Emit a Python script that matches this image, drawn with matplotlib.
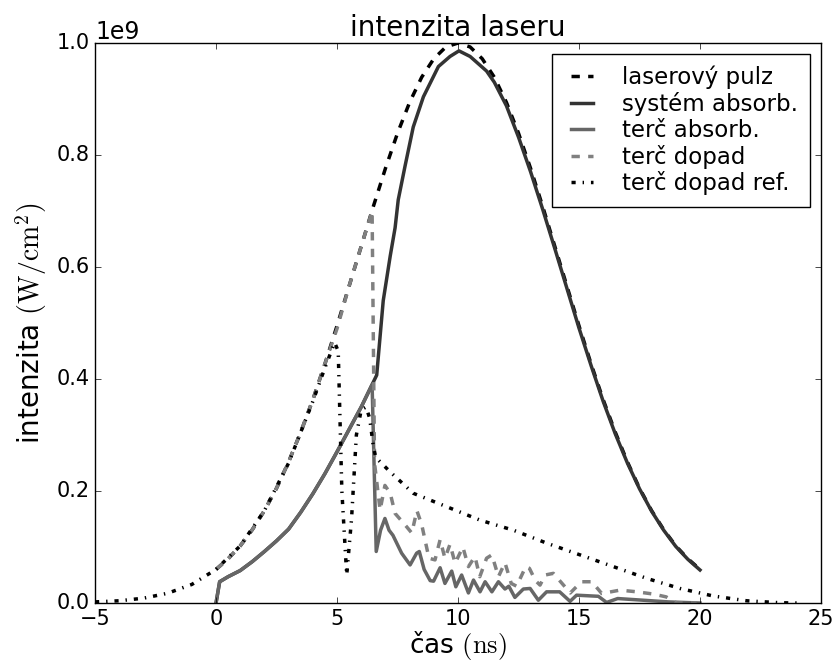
import matplotlib
matplotlib.use("Agg")
import matplotlib.pyplot as plt

plt.style.use('classic')
plt.rcParams['figure.facecolor'] = 'white'
plt.rcParams['savefig.facecolor'] = 'white'

# laserový pulz
t_laser = [0, 0.5, 1, 1.5, 2, 2.5, 3, 3.5, 4, 4.5, 5, 5.5, 6, 6.5, 7, 7.5, 8, 8.5, 9, 9.5,
           10, 10.5, 11, 11.5, 12, 12.5, 13, 13.5, 14, 14.5, 15, 15.5, 16, 16.5, 17, 17.5,
           18, 18.5, 19, 19.5, 20]
i_laser = [0.060, 0.079, 0.102, 0.131, 0.165, 0.205, 0.252, 0.305, 0.363, 0.427, 0.495,
           0.566, 0.637, 0.708, 0.776, 0.839, 0.894, 0.939, 0.972, 0.993, 1.000, 0.993,
           0.972, 0.939, 0.894, 0.839, 0.776, 0.708, 0.637, 0.566, 0.495, 0.427, 0.363,
           0.305, 0.252, 0.205, 0.165, 0.131, 0.102, 0.079, 0.060]

# systém absorb.
t_sys = [0, 0.15, 0.5, 1, 1.5, 2, 2.5, 3, 3.5, 4, 4.5, 5, 5.5, 6, 6.64, 6.91, 7.2, 7.4,
         7.53, 7.81, 8.15, 8.57, 9.19, 9.67, 10.04, 10.5, 11.18, 11.5, 12, 12.5, 13, 13.5,
         14, 14.5, 15, 15.5, 16, 16.5, 17, 17.5, 18, 18.5, 19, 19.5, 20]
i_sys = [0.0, 0.038, 0.047, 0.058, 0.074, 0.092, 0.111, 0.132, 0.162, 0.195, 0.231, 0.270,
         0.310, 0.350, 0.407, 0.540, 0.620, 0.670, 0.720, 0.780, 0.850, 0.904, 0.958, 0.976,
         0.986, 0.976, 0.950, 0.930, 0.888, 0.832, 0.770, 0.703, 0.633, 0.562, 0.491, 0.424,
         0.360, 0.302, 0.250, 0.204, 0.164, 0.130, 0.101, 0.078, 0.059]

# terč absorb.
t_tabs = [0, 0.15, 0.5, 1, 1.5, 2, 2.5, 3, 3.5, 4, 4.5, 5, 5.5, 6, 6.45, 6.62, 6.8, 6.98,
          7.15, 7.31, 7.67, 8.02, 8.29, 8.4, 8.6, 8.85, 8.99, 9.26, 9.46, 9.74, 9.91, 10.15,
          10.43, 10.64, 10.91, 11.12, 11.4, 11.67, 11.94, 12.1, 12.35, 12.7, 12.98, 13.32,
          13.66, 14.2, 14.63, 14.9, 15.8, 16.14, 16.6, 18.7, 20]
i_tabs = [0.0, 0.038, 0.047, 0.058, 0.074, 0.092, 0.111, 0.132, 0.162, 0.195, 0.231, 0.270,
          0.310, 0.350, 0.390, 0.092, 0.130, 0.151, 0.130, 0.121, 0.089, 0.068, 0.089, 0.092,
          0.060, 0.040, 0.039, 0.063, 0.035, 0.057, 0.029, 0.050, 0.018, 0.041, 0.020, 0.038,
          0.020, 0.038, 0.025, 0.030, 0.010, 0.025, 0.026, 0.005, 0.020, 0.020, 0.003, 0.014,
          0.012, 0.001, 0.008, 0.002, 0.0]

# terč dopad
t_tdop = [0, 0.5, 1, 1.5, 2, 2.5, 3, 3.5, 4, 4.5, 5, 5.5, 6, 6.45, 6.55, 6.78, 6.98, 7.2,
          7.4, 7.6, 7.88, 8.09, 8.3, 8.5, 8.8, 9.05, 9.26, 9.46, 9.67, 9.88, 10.2, 10.43,
          10.7, 10.9, 11.18, 11.4, 11.67, 11.94, 12.2, 12.42, 12.8, 12.95, 13.2, 13.39, 13.6,
          13.94, 14.3, 14.64, 15.1, 15.53, 15.94, 16.69, 17.4, 18.07, 18.6, 19.03, 19.86]
i_tdop = [0.060, 0.079, 0.102, 0.131, 0.165, 0.205, 0.252, 0.305, 0.363, 0.427, 0.490,
          0.566, 0.637, 0.700, 0.250, 0.166, 0.210, 0.196, 0.160, 0.150, 0.136, 0.125, 0.165,
          0.140, 0.080, 0.077, 0.113, 0.080, 0.105, 0.071, 0.100, 0.065, 0.083, 0.047, 0.080,
          0.086, 0.047, 0.072, 0.035, 0.030, 0.065, 0.062, 0.040, 0.032, 0.050, 0.053, 0.035,
          0.018, 0.038, 0.038, 0.017, 0.023, 0.020, 0.016, 0.011, 0.0, 0.0]

# terč dopad ref.
t_ref = [-5, -4, -3, -2, -1, 0, 1, 2, 3, 4, 4.5, 4.9, 5.05, 5.2, 5.4, 5.6, 5.8, 6.0, 6.2,
         6.35, 6.5, 6.6, 7.2, 8.15, 9.53, 10.91, 12.29, 13.66, 15.04, 16.42, 17.8, 19.17,
         20.55, 21.93, 23.31, 24]
i_ref = [0.002, 0.004, 0.0086, 0.0174, 0.0332, 0.060, 0.102, 0.165, 0.250, 0.360, 0.420,
         0.465, 0.450, 0.200, 0.050, 0.150, 0.300, 0.345, 0.350, 0.330, 0.280, 0.260, 0.234,
         0.196, 0.172, 0.148, 0.130, 0.107, 0.086, 0.065, 0.044, 0.026, 0.0125, 0.004,
         0.0005, 0.0]

scale = 1e9

fig = plt.figure(figsize=(8.38, 6.65), dpi=100)
ax = fig.add_axes([0.1134, 0.0932, 0.8663, 0.8421])

ax.plot(t_laser, [v * scale for v in i_laser], color='k', ls='--', lw=2.5, label='laserový pulz')
ax.plot(t_sys, [v * scale for v in i_sys], color='0.2', ls='-', lw=2.5, label='systém absorb.')
ax.plot(t_tabs, [v * scale for v in i_tabs], color='0.4', ls='-', lw=2.5, label='terč absorb.')
ax.plot(t_tdop, [v * scale for v in i_tdop], color='0.5', ls='--', lw=2.5, label='terč dopad')
ax.plot(t_ref, [v * scale for v in i_ref], color='k', ls='-.', lw=2.5, label='terč dopad ref.')

ax.set_xlim(-5, 25)
ax.set_ylim(0, 1e9)
ax.tick_params(labelsize=15)
ax.yaxis.get_offset_text().set_fontsize(17)
ax.set_title('intenzita laseru', fontsize=20)
ax.set_xlabel('čas $\\mathrm{(ns)}$', fontsize=19, labelpad=0)
ax.set_ylabel('intenzita $\\mathrm{(W/cm^2)}$', fontsize=20)
ax.legend(loc='upper right', fontsize=16.5, handlelength=1.6, handletextpad=0.95,
          labelspacing=0.12, borderpad=0.5)

fig.savefig('out.png', dpi=100)
